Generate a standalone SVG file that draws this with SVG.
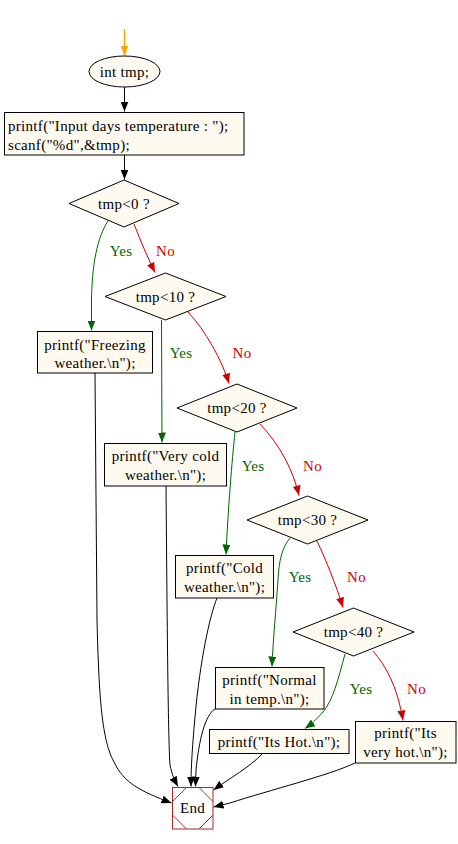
<svg xmlns="http://www.w3.org/2000/svg" width="458" height="844" viewBox="0 0 458 844">
<style>
text{font-family:"Liberation Serif","Times New Roman","DejaVu Serif",serif;font-size:15px;letter-spacing:0.3px;fill:#000}
.n{fill:#fffaf0;stroke:#000;stroke-width:1}
.c{text-anchor:middle}
.e{fill:none;stroke:#000;stroke-width:1}
.g{fill:none;stroke:#006400;stroke-width:1}
.r{fill:none;stroke:#cc0000;stroke-width:1}
.o{fill:none;stroke:#ffa500;stroke-width:1.5}
.yl{fill:#006400}
.nl{fill:#cc0000}
</style>
<defs>
<marker id="ab" markerWidth="10" markerHeight="8" refX="10" refY="4" orient="auto" markerUnits="userSpaceOnUse"><path d="M0,0 L10,4 L0,8 z" fill="#000"/></marker>
<marker id="ag" markerWidth="10" markerHeight="8" refX="10" refY="4" orient="auto" markerUnits="userSpaceOnUse"><path d="M0,0 L10,4 L0,8 z" fill="#006400"/></marker>
<marker id="ar" markerWidth="10" markerHeight="8" refX="10" refY="4" orient="auto" markerUnits="userSpaceOnUse"><path d="M0,0 L10,4 L0,8 z" fill="#cc0000"/></marker>
<marker id="ao" markerWidth="10" markerHeight="8" refX="10" refY="4" orient="auto" markerUnits="userSpaceOnUse"><path d="M0,0 L10,4 L0,8 z" fill="#ffa500"/></marker>
</defs>
<g id="connectors">
<path class="o" d="M124.5,29 L124.5,55.5" marker-end="url(#ao)"/>
<path class="e" d="M124.5,87 L124.5,111.5" marker-end="url(#ab)"/>
<path class="e" d="M124.5,155 L124.5,179.5" marker-end="url(#ab)"/>
<path class="g" d="M108,221 C97,238 92,265 91.5,300 L91.5,330.5" marker-end="url(#ag)"/>
<path class="r" d="M134,224 C140,240 148,258 155,272.5" marker-end="url(#ar)"/>
<path class="g" d="M161.5,320 L162,442.5" marker-end="url(#ag)"/>
<path class="r" d="M188,312 C205,330 222,360 229,383.5" marker-end="url(#ar)"/>
<path class="g" d="M235,432 C232,460 228,510 226,554.5" marker-end="url(#ag)"/>
<path class="r" d="M260,424 C280,445 293,470 299,495.5" marker-end="url(#ar)"/>
<path class="g" d="M290,538 C282,548 279,560 278,580 C276,610 273,640 272,666.5" marker-end="url(#ag)"/>
<path class="r" d="M317,541 C326,560 336,585 343,607.5" marker-end="url(#ar)"/>
<path class="g" d="M345,654 C338,680 333,700 323,712 C316,720 310,725 305,728.5" marker-end="url(#ag)"/>
<path class="r" d="M373,651 C385,665 397,685 403,720.5" marker-end="url(#ar)"/>
<path class="e" d="M95,373 L97,620 C99,700 102,740 114,762 C124,783 140,791 171.5,803" marker-end="url(#ab)"/>
<path class="e" d="M166,486 C167,600 168,740 170,765 C172,775 175,781 178,786.5" marker-end="url(#ab)"/>
<path class="e" d="M217,598 C210,615 200,660 195,717 C192,750 191,770 191,786.5" marker-end="url(#ab)"/>
<path class="e" d="M215,709 C205,715 199,740 196,770 L195.5,786.5" marker-end="url(#ab)"/>
<path class="e" d="M262,754 C250,767 230,778 213.5,790" marker-end="url(#ab)"/>
<path class="e" d="M355,763 C330,775 270,790 230,803 L213.5,807" marker-end="url(#ab)"/>
<text class="c yl" x="121" y="256">Yes</text>
<text class="c nl" x="165.5" y="256">No</text>
<text class="c yl" x="181" y="358">Yes</text>
<text class="c nl" x="242" y="358">No</text>
<text class="c yl" x="253" y="471">Yes</text>
<text class="c nl" x="312.5" y="471">No</text>
<text class="c yl" x="300" y="582">Yes</text>
<text class="c nl" x="356.5" y="582">No</text>
<text class="c yl" x="361" y="694">Yes</text>
<text class="c nl" x="416.5" y="694">No</text>
</g>
<g id="n_decl">
<ellipse class="n" cx="124.5" cy="71.5" rx="35.5" ry="15.5"/>
<text class="c" x="124.5" y="76.5">int tmp;</text>
</g>
<g id="n_input">
<rect class="n" x="4.5" y="112.5" width="239.5" height="42.5"/>
<text x="8" y="131">printf("Input days temperature : ");</text>
<text x="8" y="150">scanf("%d",&amp;tmp);</text>
</g>
<g id="d_lt0">
<polygon class="n" points="124,180 179,203.5 124,227 69,203.5"/>
<text class="c" x="124" y="208.5">tmp&lt;0 ?</text>
</g>
<g id="d_lt10">
<polygon class="n" points="165.5,273 226,296.5 165.5,320 105,296.5"/>
<text class="c" x="165.5" y="301.5">tmp&lt;10 ?</text>
</g>
<g id="d_lt20">
<polygon class="n" points="237,384 297,408 237,432 177,408"/>
<text class="c" x="237" y="413">tmp&lt;20 ?</text>
</g>
<g id="d_lt30">
<polygon class="n" points="307.5,496 368,520 307.5,544 247,520"/>
<text class="c" x="307.5" y="525">tmp&lt;30 ?</text>
</g>
<g id="d_lt40">
<polygon class="n" points="353.5,608 414,632 353.5,656 293,632"/>
<text class="c" x="353.5" y="637">tmp&lt;40 ?</text>
</g>
<g id="n_freezing">
<rect class="n" x="37.5" y="331.5" width="115" height="41.5"/>
<text class="c" x="95" y="350">printf("Freezing</text>
<text class="c" x="95" y="368">weather.\n");</text>
</g>
<g id="n_verycold">
<rect class="n" x="104.5" y="443.5" width="122" height="42.5"/>
<text class="c" x="165.5" y="461">printf("Very cold</text>
<text class="c" x="165.5" y="480">weather.\n");</text>
</g>
<g id="n_cold">
<rect class="n" x="175.5" y="555.5" width="98" height="42.5"/>
<text class="c" x="224.5" y="573">printf("Cold</text>
<text class="c" x="224.5" y="592">weather.\n");</text>
</g>
<g id="n_normal">
<rect class="n" x="215.5" y="667.5" width="108.5" height="41.5"/>
<text class="c" x="269.5" y="685">printf("Normal</text>
<text class="c" x="269.5" y="704">in temp.\n");</text>
</g>
<g id="n_hot">
<rect class="n" x="209.5" y="729.5" width="139.5" height="24"/>
<text class="c" x="279" y="746.5">printf("Its Hot.\n");</text>
</g>
<g id="n_veryhot">
<rect class="n" x="355.5" y="721.5" width="100.5" height="41.5"/>
<text class="c" x="405.5" y="738">printf("Its</text>
<text class="c" x="405.5" y="757">very hot.\n");</text>
</g>
<g id="n_end">
<rect x="172.5" y="787.5" width="40.5" height="41.5" fill="#fff" stroke="#a52a2a"/>
<path d="M172.5,801.5 L186.5,787.5 M199,787.5 L213,801.5 M172.5,815 L186.5,829 M199,829 L213,815" stroke="#a52a2a" fill="none"/>
<text class="c" x="192.5" y="813">End</text>
</g>
</svg>
